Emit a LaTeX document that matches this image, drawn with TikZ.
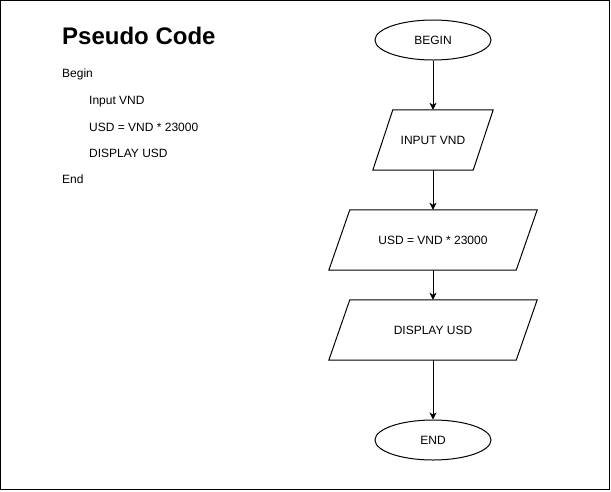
\documentclass[tikz,border=0pt]{standalone}
\usepackage{fontspec}
\setmainfont{Liberation Sans}
\usetikzlibrary{shapes.geometric,arrows.meta}
\begin{document}
\begin{tikzpicture}[x=1pt,y=-1pt,
  every node/.style={font=\fontsize{12}{14}\selectfont},
  term/.style={draw,ellipse,line width=1pt,minimum width=116pt,minimum height=40pt,inner sep=0pt},
  iobox/.style={inner sep=0pt,minimum height=60pt},
  codeline/.style={anchor=base west,inner sep=0pt},
  flow/.style={line width=1pt,-{Stealth[length=7pt,width=7pt,inset=2pt]}},
  para/.style={line width=1pt}]
\useasboundingbox (0,0) rectangle (611,491);
\draw[line width=1pt] (0.5,0.5) rectangle (609.5,489.5);
% pseudo code
\node[codeline,font=\fontsize{24}{28}\selectfont\bfseries] (title) at (62,44) {Pseudo Code};
\node[codeline] (l1) at (62,77.5) {Begin};
\node[codeline] (l2) at (89,104) {Input VND};
\node[codeline] (l3) at (89,131) {USD = VND * 23000};
\node[codeline] (l4) at (89,157.5) {DISPLAY USD};
\node[codeline] (l5) at (62,183.5) {End};
% flowchart
\node[term] (begin) at (433,40) {BEGIN};
\node[iobox,minimum width=120pt] (inp) at (433,140) {INPUT VND};
\node[iobox,minimum width=208pt] (calc) at (433,240) {USD = VND * 23000};
\node[iobox,minimum width=208pt] (disp) at (433,330) {DISPLAY USD};
\node[term] (end) at (433,440) {END};
\draw[para] ([xshift=20pt]inp.north west) -- (inp.north east) -- ([xshift=-20pt]inp.south east) -- (inp.south west) -- cycle;
\draw[para] ([xshift=21pt]calc.north west) -- (calc.north east) -- ([xshift=-21pt]calc.south east) -- (calc.south west) -- cycle;
\draw[para] ([xshift=21pt]disp.north west) -- (disp.north east) -- ([xshift=-21pt]disp.south east) -- (disp.south west) -- cycle;
\draw[flow] (begin) -- (inp);
\draw[flow] (inp) -- (calc);
\draw[flow] (calc) -- (disp);
\draw[flow] (disp) -- (end);
\end{tikzpicture}
\end{document}
